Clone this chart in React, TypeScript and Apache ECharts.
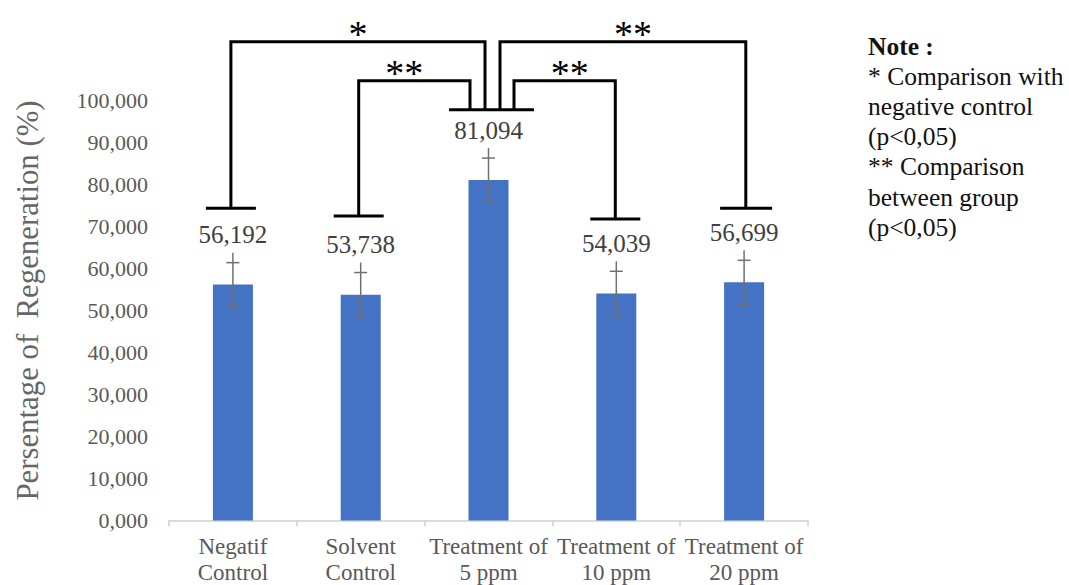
import React, { useEffect, useRef } from "react";
import * as echarts from "echarts";

// ---- data ----
const categories = [
  "Negatif\nControl",
  "Solvent\nControl",
  "Treatment of\n5 ppm",
  "Treatment of\n10 ppm",
  "Treatment of\n20 ppm",
];
const means = [56.192, 53.738, 81.094, 54.039, 56.699];
const sds = [5.2, 5.3, 5.2, 5.3, 5.25];
const yMin = 0;
const yMax = 100;
const yInterval = 10;

// significance comparisons (category indices)
const comparisons = [
  { from: 0, to: 2, mark: "*" },
  { from: 1, to: 2, mark: "**" },
  { from: 2, to: 4, mark: "**" },
  { from: 2, to: 3, mark: "**" },
];

const noteLines = [
  "Note :",
  "* Comparison with",
  "negative control",
  "(p<0,05)",
  "** Comparison",
  "between group",
  "(p<0,05)",
];

// ---- annotation layout (value-axis levels and pixel offsets) ----
const bracketLayout = [
  { top: 114.0, fromEnd: 74.35, toEnd: 97.8, fromOff: -2, toOff: -3.5, markOff: 0 },
  { top: 104.7, fromEnd: 72.5, toEnd: 97.8, fromOff: -2, toOff: -18.5, markOff: -10 },
  { top: 114.0, fromEnd: 97.8, toEnd: 74.35, fromOff: 11.5, toOff: 1.7, markOff: 10 },
  { top: 104.7, fromEnd: 97.8, toEnd: 71.8, fromOff: 25.5, toOff: -1, markOff: 5 },
];
const capLayout = [
  { cat: 0, level: 74.35, left: -27, right: 23 },
  { cat: 1, level: 72.5, left: -27, right: 23 },
  { cat: 2, level: 97.8, left: -39.5, right: 45.5 },
  { cat: 3, level: 71.8, left: -26, right: 24 },
  { cat: 4, level: 74.35, left: -24, right: 28 },
];

const SERIF = "'Liberation Serif', 'Times New Roman', serif";
const fmt = (v: number) => v.toFixed(3).replace(".", ",");

export default function App() {
  const ref = useRef<HTMLDivElement>(null);

  useEffect(() => {
    if (!ref.current) return;
    const chart = echarts.init(ref.current, undefined, { renderer: "svg" });

    const option: any = {
      animation: false,
      backgroundColor: "#ffffff",
      grid: {
        left: 169,
        right: 261,
        top: 100.5,
        bottom: 64.5,
        containLabel: false,
        outerBoundsMode: "none",
      },
      xAxis: {
        type: "category",
        data: categories,
        axisLine: { lineStyle: { color: "#d0d0d0", width: 1.5 } },
        axisTick: { show: true, length: 6, lineStyle: { color: "#d0d0d0", width: 1.5 } },
        axisLabel: {
          interval: 0,
          fontFamily: SERIF,
          fontSize: 23,
          color: "#595959",
          lineHeight: 26,
          margin: 13,
        },
      },
      yAxis: {
        type: "value",
        min: yMin,
        max: yMax,
        interval: yInterval,
        axisLine: { show: false },
        axisTick: { show: false },
        splitLine: { show: false },
        axisLabel: {
          formatter: (v: number) => fmt(v),
          fontFamily: SERIF,
          fontSize: 22,
          color: "#595959",
          margin: 21,
        },
        name: "Persentage of\u00a0\u00a0Regeneration (%)",
        nameLocation: "middle",
        nameGap: 126,
        nameTextStyle: {
          fontFamily: SERIF,
          fontSize: 30.8,
          color: "#666666",
          padding: [0, 0, 0, 20],
        },
      },
      series: [
        {
          type: "bar",
          data: means,
          barWidth: 40,
          itemStyle: { color: "#4472C4" },
        },
        {
          type: "custom",
          z: 5,
          data: means.map((m, i) => [i, m, sds[i]]),
          renderItem: (params: any, api: any) => {
            const i = api.value(0);
            const m = api.value(1);
            const sd = api.value(2);
            const x = api.coord([i, m])[0];
            const hi = api.coord([i, m + sd])[1];
            const lo = api.coord([i, m - sd])[1];
            const st = { stroke: "#707070", lineWidth: 1.5 };
            return {
              type: "group",
              children: [
                { type: "line", shape: { x1: x, y1: lo, x2: x, y2: hi - 10 }, style: st },
                { type: "line", shape: { x1: x - 6.5, y1: hi, x2: x + 6.5, y2: hi }, style: st },
                { type: "line", shape: { x1: x - 6.5, y1: lo, x2: x + 6.5, y2: lo }, style: st },
                {
                  type: "text",
                  x: x,
                  y: hi - 28,
                  style: {
                    text: fmt(m),
                    fontFamily: SERIF,
                    fontSize: 25,
                    fill: "#404040",
                    align: "center",
                    verticalAlign: "middle",
                  },
                },
              ],
            };
          },
        },
        {
          type: "custom",
          z: 6,
          clip: false,
          data: comparisons.map((c, k) => [c.from, bracketLayout[k].top]),
          renderItem: (params: any, api: any) => {
            const k = params.dataIndex;
            const c = comparisons[k];
            const L = bracketLayout[k];
            const xa = api.coord([c.from, 0])[0] + L.fromOff;
            const xb = api.coord([c.to, 0])[0] + L.toOff;
            const yTop = api.coord([c.from, L.top])[1];
            const ya = api.coord([c.from, L.fromEnd])[1];
            const yb = api.coord([c.to, L.toEnd])[1];
            return {
              type: "group",
              children: [
                {
                  type: "polyline",
                  shape: { points: [[xa, ya], [xa, yTop], [xb, yTop], [xb, yb]] },
                  style: { stroke: "#000", lineWidth: 3, fill: null, lineJoin: "miter" },
                },
                {
                  type: "text",
                  x: (xa + xb) / 2 + L.markOff,
                  y: yTop - 8,
                  style: {
                    text: c.mark,
                    fontFamily: SERIF,
                    fontSize: 38,
                    fill: "#000",
                    align: "center",
                    verticalAlign: "middle",
                  },
                },
              ],
            };
          },
        },
        {
          type: "custom",
          z: 6,
          clip: false,
          data: capLayout.map((c) => [c.cat, c.level]),
          renderItem: (params: any, api: any) => {
            const c = capLayout[params.dataIndex];
            const p = api.coord([c.cat, c.level]);
            return {
              type: "line",
              shape: { x1: p[0] + c.left, y1: p[1], x2: p[0] + c.right, y2: p[1] },
              style: { stroke: "#000", lineWidth: 3 },
            };
          },
        },
      ],
      graphic: noteLines.map((t, i) => ({
        type: "text",
        left: 868,
        top: 47 + i * 30.2 - 14,
        style: {
          text: t,
          fontFamily: SERIF,
          fontSize: 25.5,
          fontWeight: i === 0 ? "bold" : "normal",
          fill: "#111",
        },
      })),
    };

    chart.setOption(option);
    return () => chart.dispose();
  }, []);

  return (
    <div
      ref={ref}
      style={{ position: "fixed", left: 0, top: 0, width: 1069, height: 585, background: "#fff" }}
    />
  );
}
